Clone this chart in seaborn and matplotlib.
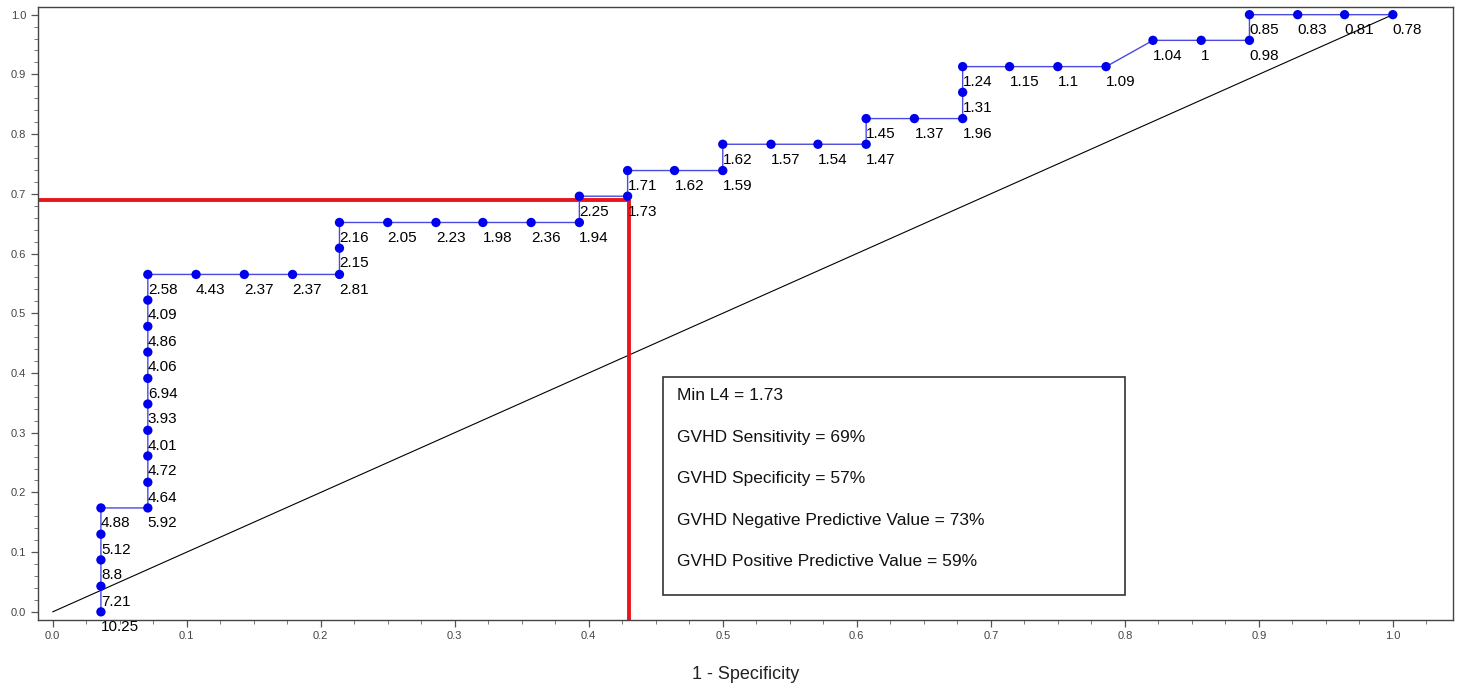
import matplotlib
matplotlib.use("Agg")
import matplotlib.pyplot as plt
from matplotlib.patches import Rectangle
from matplotlib.ticker import MultipleLocator
import seaborn as sns

# ROC points (1 - specificity, sensitivity) and the L4 cut-off at each point
fpr = [0.036, 0.036, 0.036, 0.036, 0.036,
       0.071, 0.071, 0.071, 0.071, 0.071, 0.071, 0.071, 0.071, 0.071, 0.071,
       0.107, 0.143, 0.179, 0.214, 0.214, 0.214,
       0.250, 0.286, 0.321, 0.357, 0.393, 0.393,
       0.429, 0.429, 0.464, 0.500, 0.500, 0.536, 0.571, 0.607, 0.607,
       0.643, 0.679, 0.679, 0.679, 0.714, 0.750, 0.786,
       0.821, 0.857, 0.893, 0.893, 0.929, 0.964, 1.000]
tpr = [0.000, 0.043, 0.087, 0.130, 0.174,
       0.174, 0.217, 0.261, 0.304, 0.348, 0.391, 0.435, 0.478, 0.522, 0.565,
       0.565, 0.565, 0.565, 0.565, 0.609, 0.652,
       0.652, 0.652, 0.652, 0.652, 0.652, 0.696,
       0.696, 0.739, 0.739, 0.739, 0.783, 0.783, 0.783, 0.783, 0.826,
       0.826, 0.826, 0.870, 0.913, 0.913, 0.913, 0.913,
       0.957, 0.957, 0.957, 1.000, 1.000, 1.000, 1.000]
cutoff = ["10.25", "7.21", "8.8", "5.12", "4.88",
          "5.92", "4.64", "4.72", "4.01", "3.93", "6.94", "4.06", "4.86", "4.09", "2.58",
          "4.43", "2.37", "2.37", "2.81", "2.15", "2.16",
          "2.05", "2.23", "1.98", "2.36", "1.94", "2.25",
          "1.73", "1.71", "1.62", "1.59", "1.62", "1.57", "1.54", "1.47", "1.45",
          "1.37", "1.96", "1.31", "1.24", "1.15", "1.1", "1.09",
          "1.04", "1", "0.98", "0.85", "0.83", "0.81", "0.78"]

# chosen cut-off
best_fpr, best_tpr = 0.430, 0.690
stats = ["Min L4 = 1.73",
         "GVHD Sensitivity = 69%",
         "GVHD Specificity = 57%",
         "GVHD Negative Predictive Value = 73%",
         "GVHD Positive Predictive Value = 59%"]

sns.set_style("white")
plt.rcParams["font.family"] = ["Liberation Sans", "DejaVu Sans"]

fig = plt.figure(figsize=(14.59, 6.90), dpi=100)
ax = fig.add_axes([0.026, 0.102, 0.970, 0.888])
xmin, ymin = -0.011, -0.013
ax.set_xlim(xmin, 1.045)
ax.set_ylim(ymin, 1.013)

# chance diagonal
ax.plot([0, 1], [0, 1], color="black", lw=0.8, zorder=1)

# red cut-off lines
ax.plot([xmin, best_fpr], [best_tpr, best_tpr], color="#e8161b", lw=2.8, zorder=2,
        solid_capstyle="butt")
ax.plot([best_fpr, best_fpr], [best_tpr, ymin], color="#e8161b", lw=2.8, zorder=2,
        solid_capstyle="butt")

# ROC curve
sns.lineplot(x=fpr, y=tpr, sort=False, estimator=None, color="#4a4adf", lw=1.0,
             ax=ax, zorder=3)
sns.scatterplot(x=fpr, y=tpr, color="#0000ee", s=45, edgecolor="none", ax=ax, zorder=4)
for x, y, lab in zip(fpr, tpr, cutoff):
    ax.annotate(lab, (x, y), xytext=(0, -6), textcoords="offset points",
                ha="left", va="top", fontsize=11, color="black", zorder=5)

# stats box
ax.add_patch(Rectangle((0.4555, 0.028), 0.345, 0.366, fill=False, edgecolor="#333333",
                       lw=1.2, zorder=6))
for i, s in enumerate(stats):
    ax.text(0.466, 0.362 - i * 0.0695, s, ha="left", va="center", fontsize=12.5,
            color="#111111", zorder=7)

# axes cosmetics
ax.xaxis.set_major_locator(MultipleLocator(0.1))
ax.xaxis.set_minor_locator(MultipleLocator(0.025))
ax.yaxis.set_major_locator(MultipleLocator(0.1))
ax.yaxis.set_minor_locator(MultipleLocator(0.02))
ax.xaxis.set_major_formatter(lambda v, p: f"{v:.1f}")
ax.yaxis.set_major_formatter(lambda v, p: f"{v:.1f}")
ax.tick_params(which="major", direction="out", length=5, width=0.9, color="#555555",
               labelsize=8, labelcolor="#444444", bottom=True, left=True)
ax.tick_params(which="minor", direction="out", length=3, width=0.7, color="#777777",
               bottom=True, left=True)
ax.tick_params(axis="x", which="major", pad=3)
for sp in ax.spines.values():
    sp.set_color("#444444")
    sp.set_linewidth(1.0)
ax.set_xlabel("1 - Specificity", fontsize=13, labelpad=18, color="#222222")

fig.savefig("out.png", dpi=100)
